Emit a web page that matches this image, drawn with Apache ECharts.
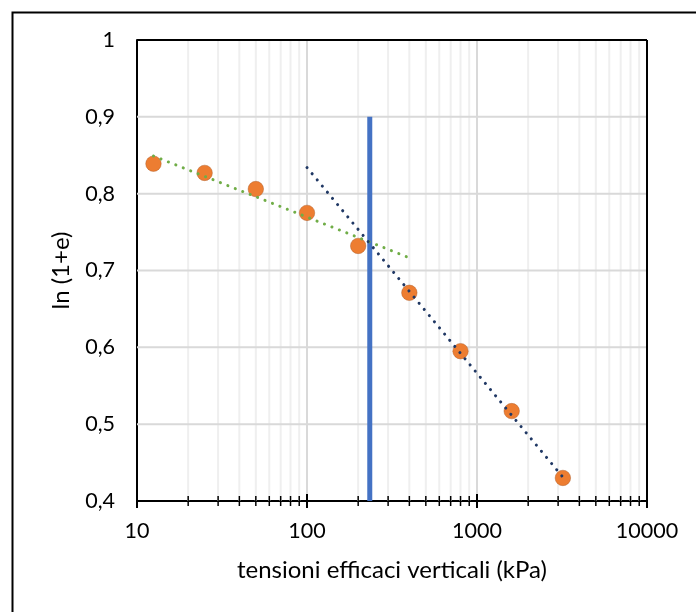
<!DOCTYPE html>
<html>
<head>
<meta charset="utf-8">
<script src="https://cdn.jsdelivr.net/npm/echarts@6/dist/echarts.min.js"></script>
<style>html,body{margin:0;padding:0;background:#fff}#c{width:696px;height:612px}</style>
</head>
<body>
<div id="c"></div>
<script>
// data
const stress = [12.5, 25, 50, 100, 200, 400, 800, 1600, 3200];
const lnOnePlusE = [0.839, 0.827, 0.806, 0.775, 0.732, 0.671, 0.595, 0.517, 0.430];
const trendLow = [[12.5, 0.849], [385, 0.718]];
const trendHigh = [[100, 0.834], [3200, 0.431]];
const preconsolidation = [[234, 0.9], [234, 0.4]];
const xMajor = [10, 100, 1000, 10000];
const xMinor = [20,30,40,50,60,70,80,90,200,300,400,500,600,700,800,900,2000,3000,4000,5000,6000,7000,8000,9000];
const yTicks = [0.4, 0.5, 0.6, 0.7, 0.8, 0.9, 1.0];
const X_MIN = 10, X_MAX = 10000, Y_MIN = 0.4, Y_MAX = 1.0;

const FONT = 'Lato';

function lineItem(color, width) {
  return function (params, api) {
    const a = api.coord([api.value(0), api.value(1)]);
    const b = api.coord([api.value(2), api.value(3)]);
    return { type: 'line', shape: { x1: a[0], y1: a[1], x2: b[0], y2: b[1] },
      style: { stroke: color, lineWidth: width }, silent: true };
  };
}

const minorGrid = xMinor.map(x => [x, Y_MIN, x, Y_MAX]);
const majorGrid = xMajor.slice(1, 3).map(x => [x, Y_MIN, x, Y_MAX])
  .concat(yTicks.slice(1, 6).map(y => [X_MIN, y, X_MAX, y]));
const frame = [[X_MIN, Y_MAX, X_MAX, Y_MAX], [X_MAX, Y_MIN, X_MAX, Y_MAX]];
const ticks = xMinor.map(x => [x, 5, 1.5]).concat(xMajor.map(x => [x, 7, 2]));

const chart = echarts.init(document.getElementById('c'));
chart.setOption({
  animation: false,
  backgroundColor: '#fff',
  textStyle: { fontFamily: FONT },
  graphic: [{
    type: 'rect', left: 10, top: 10, shape: { x: 0, y: 0, width: 760, height: 700 },
    style: { fill: 'none', stroke: '#000', lineWidth: 2 }, silent: true, z: 100
  }],
  grid: { left: 137, right: 49, top: 40, bottom: 111, show: false },
  xAxis: {
    type: 'log', logBase: 10, min: X_MIN, max: X_MAX,
    axisLine: { show: true, lineStyle: { color: '#000', width: 2 } },
    axisTick: { show: false },
    splitLine: { show: false },
    minorTick: { show: false }, minorSplitLine: { show: false },
    axisLabel: { color: '#000', fontSize: 21.5, fontFamily: FONT, margin: 19,
      formatter: v => String(Math.round(v)) },
    name: 'tensioni efficaci verticali (kPa)', nameLocation: 'middle', nameGap: 57,
    nameTextStyle: { color: '#000', fontSize: 24, fontFamily: FONT }
  },
  yAxis: {
    type: 'value', min: Y_MIN, max: Y_MAX, interval: 0.1,
    axisLine: { show: true, onZero: false, lineStyle: { color: '#000', width: 2 } },
    axisTick: { show: false },
    splitLine: { show: false },
    axisLabel: { color: '#000', fontSize: 21.5, fontFamily: FONT, margin: 22,
      formatter: v => String(+(+v).toFixed(1)).replace('.', ',') },
    name: 'ln (1+e)', nameLocation: 'middle', nameGap: 64,
    nameTextStyle: { color: '#000', fontSize: 24, fontFamily: FONT }
  },
  series: [
    { type: 'custom', name: 'minorGrid', z: 1, data: minorGrid,
      renderItem: lineItem('#efefef', 2), encode: { x: [0, 2], y: [1, 3] } },
    { type: 'custom', name: 'majorGrid', z: 1.5, data: majorGrid,
      renderItem: lineItem('#d9d9d9', 2), encode: { x: [0, 2], y: [1, 3] } },
    { type: 'custom', name: 'frame', z: 3, data: frame,
      renderItem: lineItem('#000', 2), encode: { x: [0, 2], y: [1, 3] } },
    { type: 'custom', name: 'ticks', z: 3, data: ticks,
      encode: { x: 0 },
      renderItem: function (params, api) {
        const p = api.coord([api.value(0), Y_MIN]);
        const len = api.value(1);
        return { type: 'line', shape: { x1: p[0], y1: p[1] - len, x2: p[0], y2: p[1] + len },
          style: { stroke: '#000', lineWidth: api.value(2) }, silent: true };
      } },
    { type: 'line', name: 'preconsolidation', z: 4, data: preconsolidation,
      symbol: 'none', lineStyle: { color: '#4472C4', width: 5 } },
    { type: 'scatter', name: 'dati', z: 5,
      data: stress.map((s, i) => [s, lnOnePlusE[i]]),
      symbolSize: 15.5,
      itemStyle: { color: '#ED7D31', borderColor: 'rgba(170,90,40,0.55)', borderWidth: 0.8, opacity: 1 } },
    { type: 'line', name: 'trendLow', z: 6, data: trendLow, symbol: 'none',
      lineStyle: { color: '#70AD47', width: 3, type: [0.1, 7.9], cap: 'round' } },
    { type: 'line', name: 'trendHigh', z: 6, data: trendHigh, symbol: 'none',
      lineStyle: { color: '#203864', width: 3, type: [0.1, 7.9], cap: 'round' } }
  ]
});
</script>
</body>
</html>
